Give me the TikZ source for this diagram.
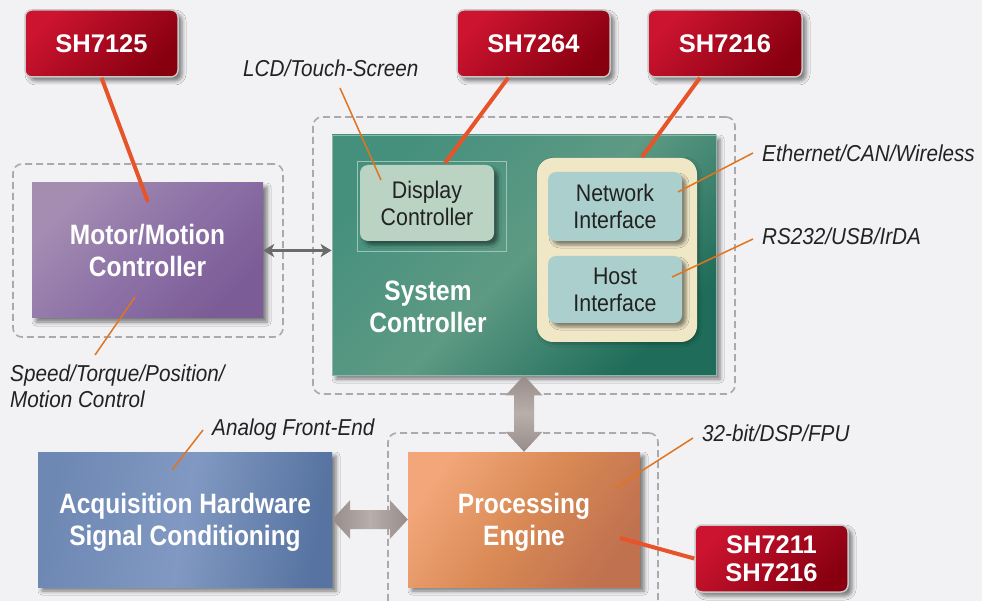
\documentclass[tikz,border=0pt]{standalone}
\usepackage{fontspec}
\setmainfont{Liberation Sans}
\newfontfamily\bigcond[FakeStretch=0.875]{Liberation Sans}
\newfontfamily\midcond[FakeStretch=0.89]{Liberation Sans}
\newfontfamily\labcond[FakeStretch=0.90]{Liberation Sans}
\usetikzlibrary{arrows.meta,shadows.blur,calc}
\definecolor{bgc}{HTML}{F2F2F4}
\definecolor{redA}{HTML}{CC1430}
\definecolor{redB}{HTML}{880010}
\definecolor{framec}{HTML}{A9A9AE}
\definecolor{purA}{HTML}{A58DB2}
\definecolor{purM}{HTML}{8D72A7}
\definecolor{purB}{HTML}{7C5C96}
\definecolor{grnA}{HTML}{45907D}
\definecolor{grnM}{HTML}{5E9A84}
\definecolor{grnB}{HTML}{1E6C59}
\definecolor{bluA}{HTML}{6E88B4}
\definecolor{bluM}{HTML}{8199C2}
\definecolor{bluB}{HTML}{5673A1}
\definecolor{orA}{HTML}{F2A679}
\definecolor{orM}{HTML}{D88954}
\definecolor{orB}{HTML}{C0714F}
\definecolor{dispc}{HTML}{BAD3C3}
\definecolor{netc}{HTML}{AACFCD}
\definecolor{creamc}{HTML}{EFE7C6}
\definecolor{arrA}{HTML}{978C89}
\definecolor{arrM}{HTML}{B8AEAA}
\definecolor{leadc}{HTML}{E2741E}
\definecolor{conc}{HTML}{E8542A}
\definecolor{darktext}{HTML}{222222}
\begin{document}
\begin{tikzpicture}[x=1pt,y=-1pt,
  softshadow/.style={blur shadow={shadow xshift=4pt,shadow yshift=-4pt,shadow blur radius=4pt,shadow opacity=50}},
  redbox/.style={rectangle,rounded corners=7pt,minimum width=153pt,minimum height=67pt,inner sep=0pt,
    draw=black!22,line width=1.5pt,top color=redA,bottom color=redB,shading angle=45,
    text=white,font=\fontsize{25.5}{28}\selectfont\bfseries,align=center,softshadow},
  maintext/.style={inner sep=0pt,text=white,align=center,text depth=0pt,
    font=\bigcond\bfseries\fontsize{28}{32}\selectfont},
  mainbox/.style={rectangle,maintext,softshadow},
  innerbox/.style={rectangle,rounded corners=8pt,inner sep=0pt,text=darktext,align=center,text depth=0pt,
    minimum width=134pt,font=\midcond\fontsize{24}{27}\selectfont,
    blur shadow={shadow xshift=4pt,shadow yshift=-4pt,shadow blur radius=3pt,shadow opacity=45}},
  frame/.style={rectangle,draw=framec,line width=1.6pt,dash pattern=on 7pt off 4pt,rounded corners=9pt,inner sep=0pt},
  lab/.style={text=darktext,inner sep=0pt,font=\labcond\fontsize{23}{26}\selectfont\itshape},
  leader/.style={draw=leadc,line width=1.5pt},
  conn/.style={draw=conc,line width=4pt},
]
\useasboundingbox (0,0) rectangle (982,601);
\clip (0,0) rectangle (982,601);
\fill[bgc] (0,0) rectangle (982,601);

% group frames
\node[frame,minimum width=270pt,minimum height=173pt] (motorframe) at (148,250.5) {};
\node[frame,minimum width=422pt,minimum height=277pt] (sysframe) at (524,255.5) {};
\node[frame,minimum width=270pt,minimum height=187pt] (procframe) at (523,526.5) {};

% main blocks
\node[mainbox,minimum width=231pt,minimum height=135pt,
  top color=purA,bottom color=purB,middle color=purM,shading angle=45] (motor) at (147.5,250.5)
  {Motor/Motion\\Controller};
\node[mainbox,minimum width=384pt,minimum height=240pt,draw=grnM!70!white,line width=0.8pt,
  top color=grnA,bottom color=grnB,middle color=grnM,shading angle=45] (sys) at (524,255) {};
\node[mainbox,minimum width=294pt,minimum height=135pt,
  left color=bluA,right color=bluB,middle color=bluM,shading angle=80] (acq) at (185,519.5)
  {Acquisition Hardware\\Signal Conditioning};
\node[mainbox,minimum width=232pt,minimum height=135pt,
  top color=orA,bottom color=orB,middle color=orM,shading angle=55] (proc) at (524,519.5)
  {Processing\\Engine};

% inside system controller
\node[maintext] (systext) at (428,307) {System\\Controller};
\node[rectangle,draw=grnM!60!white,line width=0.6pt,minimum width=149pt,minimum height=90pt] (dispframe) at (431.5,206) {};
\node[innerbox,fill=dispc,minimum height=76pt] (disp) at (427,203) {Display\\Controller};
\node[rectangle,rounded corners=16pt,fill=creamc,minimum width=160pt,minimum height=184pt,inner sep=0pt,
  blur shadow={shadow xshift=2pt,shadow yshift=-2pt,shadow blur radius=3pt,shadow opacity=25}] (cream) at (617,250) {};
\node[innerbox,fill=netc,minimum height=69pt] (net) at (615,206.5) {Network\\Interface};
\node[innerbox,fill=netc,minimum height=67pt] (host) at (615,289.5) {Host\\Interface};

% red part boxes
\node[redbox] (sh7125) at (101.5,43.5) {SH7125};
\node[redbox] (sh7264) at (533.5,43.5) {SH7264};
\node[redbox,minimum width=154pt] (sh7216) at (725,43.5) {SH7216};
\node[redbox] (sh7211) at (771.5,558.5) {SH7211\\SH7216};

% thin double arrow motor <-> system
\draw[draw=black!58,line width=2.5pt,{Stealth[length=11pt,width=13pt,inset=3pt]}-{Stealth[length=11pt,width=13pt,inset=3pt]}]
  (motor.east) -- (motor.east -| sys.west);

% thick double arrows
\coordinate (va) at (sys.south);
\coordinate (vb) at (va |- proc.north);
\shade[top color=arrA,bottom color=arrA,middle color=arrM]
  (va) -- ($(va)+(18.5,20)$) -- ($(va)+(10,20)$) -- ($(vb)+(10,-20)$) -- ($(vb)+(18.5,-20)$) -- (vb)
  -- ($(vb)+(-18.5,-20)$) -- ($(vb)+(-10,-20)$) -- ($(va)+(-10,20)$) -- ($(va)+(-18.5,20)$) -- cycle;
\coordinate (ha) at (acq.east);
\coordinate (hb) at (proc.west);
\shade[left color=arrA,right color=arrA,middle color=arrM]
  (ha) -- ($(ha)+(18,-19.5)$) -- ($(ha)+(18,-9.5)$) -- ($(hb)+(-18,-9.5)$) -- ($(hb)+(-18,-19.5)$) -- (hb)
  -- ($(hb)+(-18,19.5)$) -- ($(hb)+(-18,9.5)$) -- ($(ha)+(18,9.5)$) -- ($(ha)+(18,19.5)$) -- cycle;

% red connectors
\coordinate (c25) at (148,202);
\coordinate (c64) at (445,163);
\coordinate (c16) at (642,157);
\coordinate (c11) at (620,538);
\draw[conn] (sh7125.south) -- (c25);
\draw[conn] (sh7264) -- (c64);
\draw[conn] (sh7216) -- (c16);
\draw[conn] (sh7211.west) -- (c11);

% labels
\node[lab,anchor=base west] (lcd) at (243,77) {LCD/Touch-Screen};
\node[lab,anchor=base west] (eth) at (762,162) {Ethernet/CAN/Wireless};
\node[lab,anchor=base west] (rs) at (762,245) {RS232/USB/IrDA};
\node[lab,anchor=south west,align=left,text depth=0pt] (speed) at (10,408) {Speed/Torque/Position/\\Motion Control};
\node[lab,anchor=base west] (afe) at (212,435) {Analog Front-End};
\node[lab,anchor=base west] (fpu) at (702,441) {32-bit/DSP/FPU};

% leader lines
\coordinate (lcdA) at (340,88);   \coordinate (lcdB) at (381,180);
\coordinate (ethA) at (753,153);  \coordinate (ethB) at (678,192);
\coordinate (rsA) at (753,239);   \coordinate (rsB) at (672,277);
\coordinate (spA) at (95,355);    \coordinate (spB) at (135,297);
\coordinate (afA) at (203,430);   \coordinate (afB) at (172,470);
\coordinate (fpA) at (693,438);   \coordinate (fpB) at (615,488);
\draw[leader] (lcdA) -- (lcdB);
\draw[leader] (ethA) -- (ethB);
\draw[leader] (rsA) -- (rsB);
\draw[leader] (spA) -- (spB);
\draw[leader] (afA) -- (afB);
\draw[leader] (fpA) -- (fpB);
\end{tikzpicture}
\end{document}
